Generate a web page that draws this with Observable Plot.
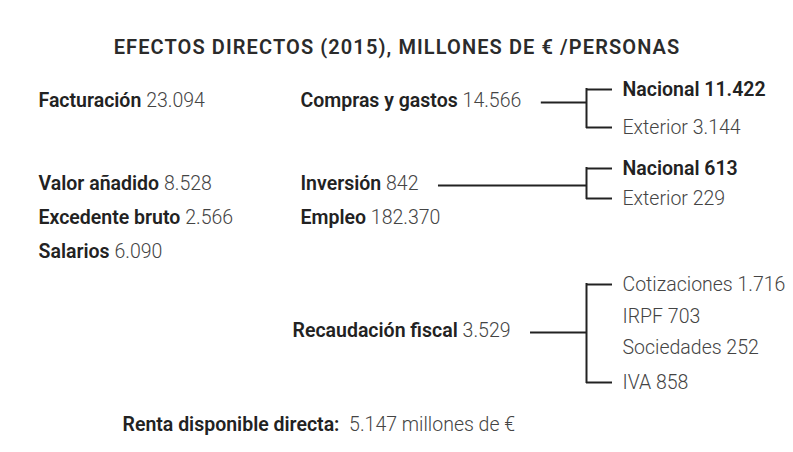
<!DOCTYPE html>
<html><head><meta charset="utf-8">
<script src="https://cdn.jsdelivr.net/npm/d3@7"></script>
<script src="https://cdn.jsdelivr.net/npm/@observablehq/plot@0.6"></script>
<style>body{margin:0;background:#fff}#chart svg{display:block}</style>
</head><body><div id="chart"></div>
<script>
const title = "EFECTOS DIRECTOS (2015), MILLONES DE € /PERSONAS";
const leftLabels = ["Facturación", "Valor añadido", "Excedente bruto", "Salarios"];
const leftValues = ["23.094", "8.528", "2.566", "6.090"];
const midLabels = ["Compras y gastos", "Inversión", "Empleo", "Recaudación fiscal"];
const midValues = ["14.566", "842", "182.370", "3.529"];
const comprasLabels = ["Nacional", "Exterior"];
const comprasValues = ["11.422", "3.144"];
const inversionLabels = ["Nacional", "Exterior"];
const inversionValues = ["613", "229"];
const fiscalLabels = ["Cotizaciones", "IRPF", "Sociedades", "IVA"];
const fiscalValues = ["1.716", "703", "252", "858"];
const footerLabel = "Renta disponible directa:";
const footerValue = "5.147 millones de €";

// ---- layout (code, not data) ----
const W = 793, H = 452, FS = 19.5;
const FONT = "Roboto, sans-serif";
const ctx = document.createElement("canvas").getContext("2d");
const measure = (t, w) => { ctx.font = `${w} ${FS}px Roboto`; return ctx.measureText(t).width; };

const colX = [38, 300, 622];
const midX = [300, 300, 300, 292];
const leftY = [100, 183, 217, 251];
const midY = [100, 183, 217, 330];
const groups = [
  {parent: 0, labels: comprasLabels, values: comprasValues, ys: [89, 127]},
  {parent: 1, labels: inversionLabels, values: inversionValues, ys: [168, 198]},
  {parent: 3, labels: fiscalLabels, values: fiscalValues, ys: [284, 316, 347, 382]}
];
const bracketX = 586, tickEnd = 612;

const bold = [], light = [], hrules = [], vrules = [];
function pair(x, y, label, value, labelBold, valueBold) {
  const lw = labelBold ? 600 : 300;
  const wl = measure(label + " ", lw);
  (labelBold ? bold : light).push({x, y, t: label});
  (valueBold ? bold : light).push({x: x + wl, y, t: value});
  return x + wl + measure(value, valueBold ? 600 : 300);
}
leftLabels.forEach((l, i) => pair(colX[0], leftY[i], l, leftValues[i], true, false));
const midEnds = midLabels.map((l, i) => pair(midX[i], midY[i], l, midValues[i], true, false));
groups.forEach(g => {
  g.labels.forEach((l, i) => {
    const b = l === "Nacional";
    pair(colX[2], g.ys[i], l, g.values[i], b, b);
  });
  const py = midY[g.parent] + 2;
  hrules.push({x1: midEnds[g.parent] + 20, x2: bracketX, y: py});
  const y0 = g.ys[0], y1 = g.ys[g.ys.length - 1];
  vrules.push({x: bracketX, y1: y0 - 1, y2: y1 + 1});
  [y0, y1].forEach(y => hrules.push({x1: bracketX, x2: tickEnd, y}));
});
const footerX = 122, footerY = 424;
const fw = measure(footerLabel + "  ", 600);
bold.push({x: footerX, y: footerY, t: footerLabel});
light.push({x: footerX + fw, y: footerY, t: footerValue});

const chart = Plot.plot({
  width: W, height: H, margin: 0,
  x: {domain: [0, W], range: [0, W], axis: null},
  y: {domain: [0, H], range: [0, H], axis: null},
  style: {fontFamily: FONT, background: "#fff"},
  marks: [
    Plot.text([title], {x: () => W / 2, y: () => 47, text: d => d, fontSize: 20, fontWeight: 600, fill: "#2b2b2b", textAnchor: "middle", lineAnchor: "middle"}),
    Plot.ruleY(hrules, {x1: "x1", x2: "x2", y: "y", stroke: "#222", strokeWidth: 2}),
    Plot.ruleX(vrules, {x: "x", y1: "y1", y2: "y2", stroke: "#222", strokeWidth: 2}),
    Plot.text(bold, {x: "x", y: "y", text: "t", fontSize: FS, fontWeight: 600, fill: "#222", textAnchor: "start", lineAnchor: "middle"}),
    Plot.text(light, {x: "x", y: "y", text: "t", fontSize: FS, fontWeight: 300, fill: "#444", textAnchor: "start", lineAnchor: "middle"})
  ]
});
// widen the title's tracking (Plot's text mark has no letter-spacing option)
d3.select(chart).selectAll("text").filter(function () { return this.textContent === title; })
  .style("letter-spacing", "1.1px");
document.getElementById("chart").append(chart);
</script>
</body></html>
